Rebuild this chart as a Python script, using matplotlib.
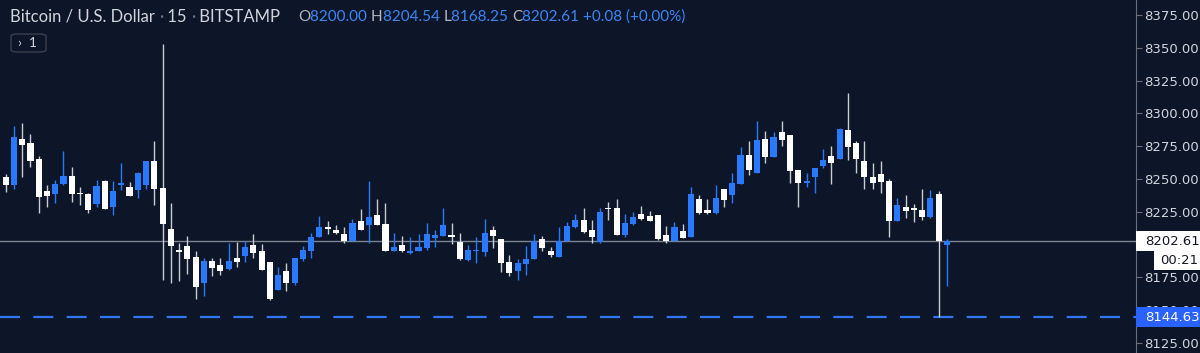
import matplotlib
matplotlib.use("Agg")
import matplotlib.pyplot as plt
from matplotlib.patches import Rectangle, FancyBboxPatch
from matplotlib.transforms import blended_transform_factory

# BTC/USD 15 min candles (Bitstamp)
opens = [8251.3, 8245.4, 8280.3, 8277.4, 8265.2, 8241.1, 8238.8, 8246.2, 8252.1, 8239.6,
         8238.8, 8231.2, 8248.7, 8228.9, 8245.4, 8243.9, 8241.4, 8245.4, 8263.5, 8242.9,
         8211.7, 8195.9, 8199.2, 8190.8, 8171.0, 8187.7, 8184.2, 8181.2, 8190.0, 8191.5,
         8199.7, 8195.1, 8186.7, 8165.4, 8180.1, 8171.0, 8188.8, 8195.1, 8206.0, 8213.2,
         8211.1, 8208.1, 8203.0, 8218.0, 8214.9, 8222.3, 8215.7, 8195.1, 8199.7, 8193.4,
         8195.1, 8197.2, 8204.8, 8206.6, 8207.1, 8201.8, 8188.3, 8195.1, 8194.6, 8211.4,
         8204.3, 8186.7, 8180.1, 8185.2, 8189.2, 8204.0, 8195.1, 8190.8, 8202.7, 8213.2,
         8218.7, 8211.1, 8201.8, 8227.7, 8228.1, 8207.3, 8215.7, 8223.1, 8221.8, 8222.3,
         8207.3, 8203.0, 8210.6, 8206.0, 8234.5, 8226.4, 8223.9, 8242.1, 8237.6, 8246.2,
         8268.3, 8254.8, 8280.7, 8267.0, 8285.8, 8283.5, 8256.9, 8247.2, 8251.3, 8259.9,
         8267.5, 8265.2, 8287.3, 8277.2, 8263.5, 8251.8, 8253.8, 8248.7, 8218.2, 8228.9,
         8227.7, 8226.4, 8220.8, 8238.6, 8200.00]
highs = [8253.6, 8290.6, 8292.5, 8284.1, 8267.3, 8245.2, 8249.2, 8271.6, 8259.4, 8243.9,
         8239.5, 8249.2, 8249.2, 8248.5, 8262.0, 8247.9, 8255.0, 8264.0, 8279.2, 8352.7,
         8231.5, 8201.0, 8206.6, 8195.4, 8189.6, 8189.8, 8189.8, 8201.0, 8201.8, 8202.7,
         8208.1, 8200.5, 8186.9, 8183.1, 8185.7, 8190.0, 8198.9, 8208.6, 8221.8, 8218.0,
         8214.9, 8213.2, 8219.7, 8226.9, 8248.5, 8234.5, 8231.5, 8209.1, 8206.6, 8205.6,
         8208.1, 8216.2, 8211.1, 8227.7, 8216.2, 8209.1, 8199.7, 8205.6, 8219.7, 8214.4,
         8204.5, 8192.1, 8188.8, 8198.9, 8208.1, 8206.6, 8197.9, 8213.2, 8217.2, 8223.3,
         8228.1, 8218.7, 8227.7, 8232.7, 8234.5, 8223.3, 8225.1, 8229.4, 8225.6, 8222.5,
         8214.2, 8217.2, 8215.7, 8243.7, 8237.6, 8234.5, 8245.2, 8242.3, 8254.3, 8274.2,
         8279.2, 8294.4, 8286.4, 8285.8, 8294.4, 8283.7, 8257.1, 8254.8, 8258.4, 8272.6,
         8275.2, 8288.6, 8315.8, 8279.2, 8279.2, 8262.4, 8263.9, 8249.8, 8235.3, 8237.8,
         8230.7, 8242.1, 8241.6, 8241.1, 8204.54]
lows = [8240.3, 8242.1, 8251.8, 8259.4, 8223.9, 8228.9, 8231.5, 8245.5, 8232.2, 8230.4,
        8223.9, 8228.4, 8226.8, 8222.3, 8241.6, 8237.0, 8235.7, 8242.4, 8230.4, 8173.0,
        8171.0, 8172.5, 8177.6, 8158.3, 8160.8, 8176.1, 8176.8, 8181.0, 8183.1, 8187.0,
        8190.0, 8180.3, 8157.8, 8165.2, 8164.9, 8169.2, 8187.7, 8189.6, 8205.8, 8207.9,
        8208.4, 8201.5, 8202.8, 8210.9, 8201.0, 8214.7, 8194.9, 8194.9, 8194.1, 8193.2,
        8194.9, 8195.9, 8198.4, 8206.4, 8200.5, 8188.6, 8187.7, 8185.7, 8191.3, 8197.6,
        8179.3, 8176.1, 8173.0, 8176.8, 8189.0, 8195.4, 8190.8, 8190.6, 8202.5, 8212.4,
        8209.1, 8201.5, 8201.6, 8218.7, 8207.1, 8206.0, 8214.9, 8218.7, 8218.0, 8203.8,
        8201.0, 8202.8, 8204.8, 8205.8, 8223.3, 8223.3, 8223.3, 8228.9, 8231.5, 8246.0,
        8253.0, 8254.6, 8262.0, 8266.8, 8275.2, 8247.2, 8228.4, 8244.1, 8239.6, 8258.2,
        8246.2, 8265.0, 8264.5, 8254.3, 8242.1, 8242.1, 8239.1, 8205.6, 8218.0, 8220.5,
        8217.5, 8218.7, 8220.0, 8144.63, 8168.25]
closes = [8245.4, 8281.8, 8276.1, 8263.5, 8236.5, 8237.3, 8246.2, 8252.1, 8238.8, 8238.3,
          8226.4, 8244.7, 8227.4, 8241.1, 8247.0, 8237.3, 8254.6, 8263.5, 8242.1, 8215.7,
          8199.2, 8194.4, 8189.2, 8167.9, 8187.7, 8181.9, 8180.1, 8187.5, 8186.7, 8197.9,
          8193.4, 8180.6, 8158.5, 8176.6, 8170.5, 8189.8, 8195.9, 8205.6, 8213.2, 8211.7,
          8208.6, 8203.0, 8216.2, 8211.1, 8221.3, 8214.9, 8195.1, 8198.2, 8195.1, 8195.1,
          8198.2, 8207.9, 8207.1, 8214.7, 8206.0, 8188.8, 8195.9, 8195.9, 8209.1, 8206.8,
          8186.2, 8178.1, 8185.7, 8189.2, 8203.0, 8197.2, 8191.8, 8203.0, 8214.2, 8218.7,
          8209.8, 8206.0, 8224.8, 8226.9, 8207.3, 8216.7, 8221.3, 8219.5, 8218.2, 8204.0,
          8203.0, 8213.2, 8205.0, 8238.6, 8224.3, 8223.9, 8235.3, 8234.0, 8246.7, 8268.3,
          8256.9, 8279.7, 8267.0, 8281.8, 8279.7, 8256.1, 8247.2, 8248.7, 8258.2, 8264.5,
          8262.0, 8288.1, 8274.2, 8265.0, 8251.8, 8247.2, 8247.9, 8218.2, 8230.2, 8225.8,
          8226.4, 8221.3, 8235.3, 8203.0, 8202.61]

yticks = [8125, 8150, 8175, 8200, 8225, 8250, 8275, 8300, 8325, 8350, 8375]
last_price = 8202.61
low_line = 8144.63
change = "+0.08 (+0.00%)"
timer = "00:21"

bg = "#0c1628"
up = "#2979ff"
down = "#ffffff"
down_wick = "#c9ccd3"
txt = "#d1d4dc"
fs = 9.5

fig = plt.figure(figsize=(12, 3.53), dpi=100, facecolor=bg)
ax = fig.add_axes([0, 0, 1136 / 1200, 1], facecolor=bg)

for i, (o, h, l, c) in enumerate(zip(opens, highs, lows, closes)):
    col = up if c >= o else down
    wcol = up if c >= o else down_wick
    ax.vlines(i, l, h, color=wcol, lw=1.0, zorder=2)
    lo, hi = min(o, c), max(o, c)
    ax.add_patch(Rectangle((i - 0.37, lo), 0.74, max(hi - lo, 0.9),
                           facecolor=col, edgecolor="none", zorder=3))

ax.axhline(last_price, color="#7c8292", lw=1.0, zorder=1)
ax.axhline(low_line, color="#2f74f0", lw=1.6, ls=(0, (9, 6)), zorder=1)

ax.set_xlim(-0.69, 136.9)
ax.set_ylim(8117.4, 8386.4)
ax.set_xticks([])
for s in ["top", "bottom", "left"]:
    ax.spines[s].set_visible(False)
ax.spines["right"].set_color("#6a6f7c")
ax.yaxis.tick_right()
ax.set_yticks(yticks)
# the 8200 label sits under the last-price tag
ax.set_yticklabels(["" if v == 8200 else f"{v:.2f}" for v in yticks])
ax.tick_params(axis="y", colors="#6a6f7c", labelcolor=txt, length=4, width=0.8,
               pad=2, labelsize=fs)

# price labels on the scale
tr = blended_transform_factory(ax.transAxes, ax.transData)
right = 1200 / 1136
ax.add_patch(Rectangle((1.0, last_price - 7.6), right - 1.0, 15.2, transform=tr,
                       facecolor="white", edgecolor="none", clip_on=False, zorder=5))
ax.text(1145 / 1136, last_price, f"{last_price:.2f}", transform=tr, color="#131722",
        fontsize=fs, va="center", ha="left", zorder=6, clip_on=False)
ax.add_patch(Rectangle((1154 / 1136, last_price - 21.8), right - 1154 / 1136, 14.8,
                       transform=tr, facecolor="white", edgecolor="none",
                       clip_on=False, zorder=5))
ax.text(1160 / 1136, last_price - 14.4, timer, transform=tr, color="#131722",
        fontsize=fs, va="center", ha="left", zorder=6, clip_on=False)
ax.add_patch(Rectangle((1.0, low_line - 7.6), right - 1.0, 15.2, transform=tr,
                       facecolor="#2962ff", edgecolor="none", clip_on=False, zorder=5))
ax.text(1145 / 1136, low_line, f"{low_line:.2f}", transform=tr, color="white",
        fontsize=fs, va="center", ha="left", zorder=6, clip_on=False)

# header
renderer = fig.canvas.get_renderer()


def chain(x, y, parts, size):
    for s, c in parts:
        t = fig.text(x, y, s, color=c, fontsize=size, va="center", ha="left",
                     family="Lato")
        x += t.get_window_extent(renderer).width / fig.bbox.width
    return x


hy = 1 - 17 / 353
chain(10 / 1200, hy, [("Bitcoin / U.S. Dollar ", txt), ("\u00b7", "#6a6f7d"),
                      (" 15 ", txt), ("\u00b7", "#6a6f7d"), (" BITSTAMP", txt)], 12)
vals = [("O", f"{opens[-1]:.2f}"), ("H", f"{highs[-1]:.2f}"),
        ("L", f"{lows[-1]:.2f}"), ("C", f"{closes[-1]:.2f}")]
x = 298 / 1200
for k, v in vals:
    x = chain(x, hy, [(k, "#b2b5be"), (v + " ", "#3d86f5")], 11)
chain(x, hy, [(change, "#3d86f5")], 11)

fig.patches.append(FancyBboxPatch((11 / 1200, 1 - 52 / 353), 35 / 1200, 18 / 353,
                                  boxstyle="round,pad=0,rounding_size=0.006",
                                  transform=fig.transFigure, facecolor=bg,
                                  edgecolor="#3a3f4d", lw=1.0))
fig.text(28 / 1200, 1 - 43 / 353, "\u203a  1", color=txt, fontsize=10, ha="center",
         va="center", family="Lato")

fig.savefig("out.png", dpi=100, facecolor=bg)
